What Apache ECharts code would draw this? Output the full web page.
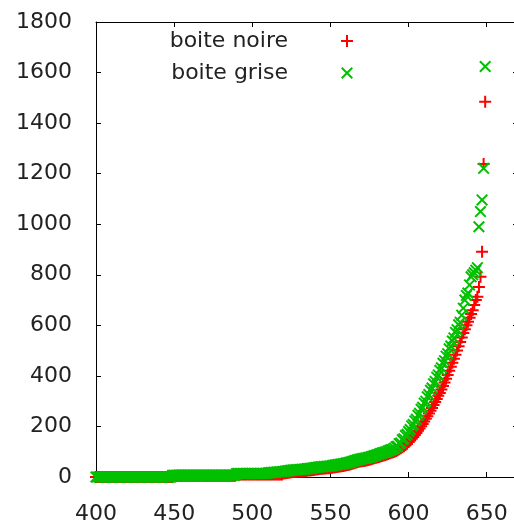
<!DOCTYPE html>
<html>
<head>
<meta charset="utf-8">
<script src="https://cdn.jsdelivr.net/npm/echarts@6/dist/echarts.min.js"></script>
<style>
  html, body { margin: 0; padding: 0; background: #ffffff; }
  #chart { width: 514px; height: 520px; }
</style>
</head>
<body>
<div id="chart"></div>
<script>
// Series names
const seriesNames = ['boite noire', 'boite grise'];

// Shared x positions (one sample per unit)
const xValues = [
  400,401,402,403,404,405,406,407,408,409,
  410,411,412,413,414,415,416,417,418,419,
  420,421,422,423,424,425,426,427,428,429,
  430,431,432,433,434,435,436,437,438,439,
  440,441,442,443,444,445,446,447,448,449,
  450,451,452,453,454,455,456,457,458,459,
  460,461,462,463,464,465,466,467,468,469,
  470,471,472,473,474,475,476,477,478,479,
  480,481,482,483,484,485,486,487,488,489,
  490,491,492,493,494,495,496,497,498,499,
  500,501,502,503,504,505,506,507,508,509,
  510,511,512,513,514,515,516,517,518,519,
  520,521,522,523,524,525,526,527,528,529,
  530,531,532,533,534,535,536,537,538,539,
  540,541,542,543,544,545,546,547,548,549,
  550,551,552,553,554,555,556,557,558,559,
  560,561,562,563,564,565,566,567,568,569,
  570,571,572,573,574,575,576,577,578,579,
  580,581,582,583,584,585,586,587,588,589,
  590,591,592,593,594,595,596,597,598,599,
  600,601,602,603,604,605,606,607,608,609,
  610,611,612,613,614,615,616,617,618,619,
  620,621,622,623,624,625,626,627,628,629,
  630,631,632,633,634,635,636,637,638,639,
  640,641,642,643,644,645,646,647,648,649
];

// boite noire values
const noireY = [
  0,0,0,0,0,0,0,0,0,0,
  0,0,0,0,0,0,0,0,0,0,
  0,0,0,0,0,0,0,0,0,0,
  0,0,0,0,0,0,0,0,0,0,
  0,0,0,0,0,0,0,0,0,0,
  5,5,5,5,5,5,5,5,5,5,
  5,5,5,5,5,5,5,5,5,5,
  5,5,5,5,5,5,5,5,5,5,
  5,5,5,5,5,5,5,5,5,5,
  10,10,10,10,10,10,10,10,10,10,
  10,10,10,10,10,10,10,10,10,10,
  10,10,10,10,10,10,10,10,10,10,
  14,15,16,17,18,19,20,20,21,21,
  22,22,23,23,24,25,26,26,27,28,
  29,30,31,32,33,33,34,34,35,35,
  36,37,38,39,40,41,42,43,44,45,
  46,47,48,50,52,54,56,58,60,61,
  62,63,64,65,67,68,70,72,74,76,
  77,79,81,83,85,87,89,91,94,96,
  98,100,103,106,110,114,118,122,127,132,
  138,144,151,158,166,174,183,192,201,210,
  220,230,240,251,262,273,285,297,309,321,
  332,346,360,374,389,404,420,436,452,468,
  484,500,517,534,552,570,585,600,614,630,
  645,660,680,700,713,752,792,891,1238,1485
];

// boite grise values
const griseY = [
  0,0,0,0,0,0,0,0,0,0,
  0,0,0,0,0,0,0,0,0,0,
  0,0,0,0,0,0,0,0,0,0,
  0,0,0,0,0,0,0,0,0,0,
  0,0,0,0,0,0,0,0,0,7,
  7,7,7,7,7,7,7,7,7,7,
  7,7,7,7,7,7,7,7,7,7,
  7,7,7,7,7,7,7,7,7,7,
  7,7,7,7,7,7,7,7,7,7,
  14,14,14,14,14,14,14,14,14,14,
  14,14,14,14,14,14,14,14,14,14,
  16,17,18,18,19,19,20,20,21,21,
  22,23,24,25,26,27,28,28,29,29,
  30,30,31,31,32,33,34,34,35,36,
  37,38,39,40,41,41,42,42,43,43,
  44,45,46,47,48,49,50,51,52,53,
  55,56,57,59,61,63,65,67,69,70,
  72,73,74,75,77,78,80,82,84,86,
  88,90,93,95,97,98,100,103,106,108,
  110,114,120,122,132,135,147,151,164,169,
  180,188,202,208,222,228,244,252,268,276,
  292,300,317,326,343,352,369,378,395,404,
  422,432,450,460,478,488,507,518,538,550,
  572,583,602,612,640,668,700,718,728,760,
  792,800,808,818,828,990,1050,1096,1221,1624
];

// Axis ticks
const xTicks = [400, 450, 500, 550, 600, 650];
const yTicks = [0, 200, 400, 600, 800, 1000, 1200, 1400, 1600, 1800];

const xMin = xTicks[0], xStep = xTicks[1] - xTicks[0], xMax = 670;
const yMin = yTicks[0], yStep = yTicks[1] - yTicks[0], yMax = yTicks[yTicks.length - 1];

// Marker shapes: a plus and a diagonal cross built from thin bars
const plusPath = 'path://M0,5H12V7H0Z M5,0H7V12H5Z';
const crossPath = 'path://M0,1.4L1.4,0L12,10.6L10.6,12Z M10.6,0L12,1.4L1.4,12L0,10.6Z';

const font = 'DejaVu Sans';
const ink = '#000000';
const textInk = '#222222';

function pairs(xs, ys) {
  return xs.map((x, i) => [x, ys[i]]);
}

function frameAxis(position, showLabels, isX) {
  return {
    type: 'value',
    position: position,
    min: isX ? xMin : yMin,
    max: isX ? xMax : yMax,
    interval: isX ? xStep : yStep,
    axisLine: { show: true, onZero: false, lineStyle: { color: ink, width: 1 } },
    axisTick: { show: true, inside: true, length: 5, lineStyle: { color: ink, width: 1 } },
    splitLine: { show: false },
    axisLabel: {
      show: showLabels,
      color: textInk,
      fontFamily: font,
      fontSize: 22,
      margin: isX ? 26 : 24,
      showMaxLabel: isX ? false : true,
      formatter: (v) => String(v)
    }
  };
}

const chart = echarts.init(document.getElementById('chart'), null, { renderer: 'canvas' });

chart.setOption({
  animation: false,
  backgroundColor: '#ffffff',
  grid: { left: 96, top: 22, width: 422, height: 455, containLabel: false, outerBoundsMode: 'none' },
  xAxis: [frameAxis('bottom', true, true), frameAxis('top', false, true)],
  yAxis: [frameAxis('left', true, false), frameAxis('right', false, false)],
  legend: {
    data: seriesNames,
    orient: 'vertical',
    align: 'right',
    right: 161,
    top: 30,
    padding: 0,
    itemWidth: 108,
    itemHeight: 12,
    itemGap: 10,
    selectedMode: false,
    textStyle: { fontFamily: font, fontSize: 22, color: textInk }
  },
  series: [
    {
      name: seriesNames[0],
      type: 'scatter',
      xAxisIndex: 0,
      yAxisIndex: 0,
      symbol: plusPath,
      symbolSize: 12,
      clip: false,
      itemStyle: { color: '#ff0000', opacity: 1 },
      emphasis: { disabled: true },
      data: pairs(xValues, noireY)
    },
    {
      name: seriesNames[1],
      type: 'scatter',
      xAxisIndex: 0,
      yAxisIndex: 0,
      symbol: crossPath,
      symbolSize: 12,
      clip: false,
      itemStyle: { color: '#00c000', opacity: 1 },
      emphasis: { disabled: true },
      data: pairs(xValues, griseY)
    }
  ]
});
</script>
</body>
</html>
